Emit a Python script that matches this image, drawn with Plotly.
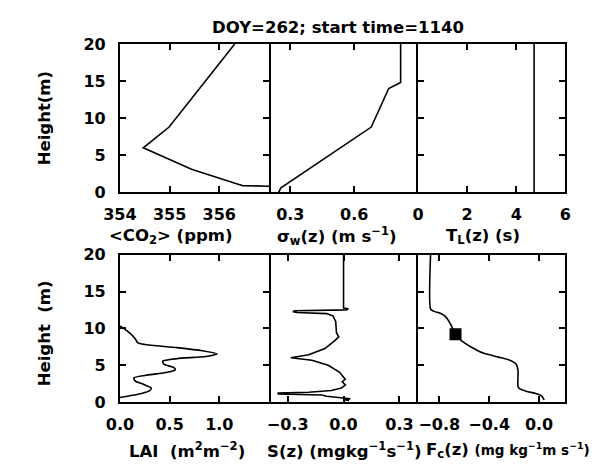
import plotly.graph_objects as go

W, H = 603, 471

# ---------------- data ----------------
co2_z = [20.0, 8.8, 6.0, 3.1, 1.03, 0.9, 0.82]
co2 = [356.31, 354.99, 354.47, 355.44, 356.41, 356.47, 357.0]

sw_z = [20.0, 14.8, 14.0, 8.8, 0.6, 0.0]
sigma_w = [0.818, 0.818, 0.762, 0.68, 0.256, 0.245]

tl_z = [0.0, 20.0]
t_l = [4.73, 4.73]

lai_z = [10.34, 9.96, 9.27, 8.54, 8.03, 7.81, 7.38, 6.95, 6.52, 6.18, 5.88, 5.54,
         5.1, 4.68, 4.38, 4.03, 3.6, 3.26, 2.83, 2.4, 1.89, 1.55, 1.16, 0.82, 0.6]
lai = [0.0, 0.042, 0.106, 0.155, 0.18, 0.25, 0.574, 0.83, 0.977, 0.865, 0.574, 0.43,
       0.445, 0.542, 0.558, 0.477, 0.25, 0.139, 0.155, 0.235, 0.316, 0.3, 0.219, 0.09, 0.0]

s_z = [20.0, 12.75, 12.66, 12.5, 12.38, 12.27, 12.15, 12.0, 11.67, 10.9, 9.4, 8.84,
       8.33, 7.25, 6.4, 6.0, 5.67, 4.98, 4.03, 3.39, 3.09, 2.75, 2.32, 1.89, 1.55,
       1.33, 1.2, 1.08, 0.98, 0.94, 0.77, 0.52, 0.43, 0.3, 0.22]
s_val = [0.0, 0.0, 0.026, 0.014, -0.26, -0.272, -0.25, -0.09, -0.056, -0.042, -0.038,
         -0.026, -0.047, -0.1, -0.187, -0.283, -0.17, -0.082, -0.021, 0.0, 0.009,
         -0.007, 0.01, -0.012, -0.065, -0.187, -0.353, -0.35, -0.2, -0.117, -0.091,
         -0.003, 0.037, 0.0, 0.03]

fc_z = [20.0, 12.6, 12.3, 12.06, 11.55, 10.7, 9.18, 8.33, 7.47, 6.6, 6.09, 5.67,
        5.1, 4.25, 2.1, 1.8, 1.46, 1.16, 0.9, 0.6, 0.26]
fc = [-0.87, -0.87, -0.844, -0.792, -0.748, -0.714, -0.67, -0.623, -0.545, -0.442,
      -0.325, -0.234, -0.182, -0.169, -0.169, -0.156, -0.104, -0.026, 0.013, 0.031, 0.04]
fc_mark_z = [9.18]
fc_mark = [-0.67]

z_ticks = [0, 5, 10, 15, 20]
co2_ticks = [354, 355, 356]
sw_ticks = [0.3, 0.6]
tl_ticks = [0, 2, 4, 6]
lai_ticks = [0.0, 0.5, 1.0]
lai_labels = ["0.0", "0.5", "1.0"]
s_ticks = [-0.3, 0.0, 0.3]
s_labels = ["\u22120.3", "0.0", "0.3"]
fc_ticks = [-0.8, -0.4, 0.0]
fc_labels = ["\u22120.8", "\u22120.4", "0.0"]

# ---------------- layout geometry (pixels) ----------------
cols = [(107, 262), (262, 417), (417, 570)]
rows = [(36.5, 191), (256, 409.5)]

FONT = "DejaVu Sans"
TICKF = dict(family=FONT, size=16, color="black", weight="bold")


def xd(a, b):
    return [a / W, b / W]


def yd(a, b):
    return [1 - b / H, 1 - a / H]


fig = go.Figure()

panels = [
    # (row, col, x, z, xrange, tickvals, ticktext, spline)
    (0, 0, co2, co2_z, [354, 357], co2_ticks, [str(v) for v in co2_ticks], False),
    (0, 1, sigma_w, sw_z, [0.2, 0.9], sw_ticks, ["0.3", "0.6"], False),
    (0, 2, t_l, tl_z, [0, 6], tl_ticks, [str(v) for v in tl_ticks], False),
    (1, 0, lai, lai_z, [0, 1.5], lai_ticks, lai_labels, True),
    (1, 1, s_val, s_z, [-0.4, 0.4], s_ticks, s_labels, False),
    (1, 2, fc, fc_z, [-0.97, 0.21], fc_ticks, fc_labels, True),
]

layout_axes = {}
for i, (r, c, xv, zv, xr, tv, tt, spl) in enumerate(panels):
    n = i + 1
    xa = "x" if n == 1 else f"x{n}"
    ya = "y" if n == 1 else f"y{n}"
    fig.add_trace(go.Scatter(
        x=xv, y=zv, mode="lines", xaxis=xa, yaxis=ya,
        line=dict(color="black", width=1.6,
                  shape="spline" if spl else "linear", smoothing=0.6),
        showlegend=False, hoverinfo="skip"))
    xkey = "xaxis" if n == 1 else f"xaxis{n}"
    ykey = "yaxis" if n == 1 else f"yaxis{n}"
    layout_axes[xkey] = dict(
        domain=xd(*cols[c]), anchor=ya, range=xr, tickvals=tv, ticktext=tt,
        ticks="inside", ticklen=6, tickwidth=1.5, tickcolor="black",
        showline=True, linewidth=2, linecolor="black", mirror="ticks",
        showgrid=False, zeroline=False, tickfont=TICKF, ticklabelstandoff=7)
    if c == 1:
        layout_axes[ykey] = dict(
            domain=yd(*rows[r]), anchor=xa, range=[0, 20], tickvals=z_ticks,
            ticks="", showticklabels=False, showline=False,
            showgrid=False, zeroline=False)
    else:
        layout_axes[ykey] = dict(
            domain=yd(*rows[r]), anchor=xa, range=[0, 20], tickvals=z_ticks,
            ticks="inside", ticklen=6, tickwidth=1.5, tickcolor="black",
            showticklabels=(c == 0),
            showline=True, linewidth=2, linecolor="black", mirror="ticks",
            showgrid=False, zeroline=False, tickfont=TICKF, ticklabelstandoff=9)

fig.add_trace(go.Scatter(
    x=fc_mark, y=fc_mark_z, mode="markers", xaxis="x6", yaxis="y6",
    marker=dict(symbol="square", size=12, color="black"),
    showlegend=False, hoverinfo="skip"))

fig.update_layout(**layout_axes)


def ann(text, px, py, size=16.5, angle=0):
    fig.add_annotation(text=text, x=px / W, y=1 - py / H, xref="paper", yref="paper",
                       showarrow=False, textangle=angle, xanchor="center", yanchor="middle",
                       font=dict(family=FONT, size=size, color="black", weight="bold"))


ann("DOY=262; start time=1140", 334, 19)
ann("Height(m)", 28, 114, size=16.5, angle=-90)
ann("Height\u00a0\u00a0(m)", 28, 338, size=16.5, angle=-90)

ann("&lt;CO<sub>2</sub>&gt; (ppm)", 160, 237)
ann("\u03c3<sub>w</sub>(z) (m s<sup>\u22121</sup>)", 333, 237)
ann("T<sub>L</sub>(z) (s)", 484, 237)

ann("LAI\u00a0\u00a0(m<sup>2</sup>m<sup>\u22122</sup>)", 177, 460)
ann("S(z) (mgkg<sup>\u22121</sup>s<sup>\u22121</sup>)", 340, 460)
ann("F<sub>c</sub>(z) <span style='font-size:13.5px'>(mg kg<sup>\u22121</sup>m s<sup>\u22121</sup>)</span>",
    510, 460)

fig.update_layout(width=W, height=H, margin=dict(l=0, r=0, t=0, b=0),
                  paper_bgcolor="white", plot_bgcolor="white")

fig.write_html("out.html")
